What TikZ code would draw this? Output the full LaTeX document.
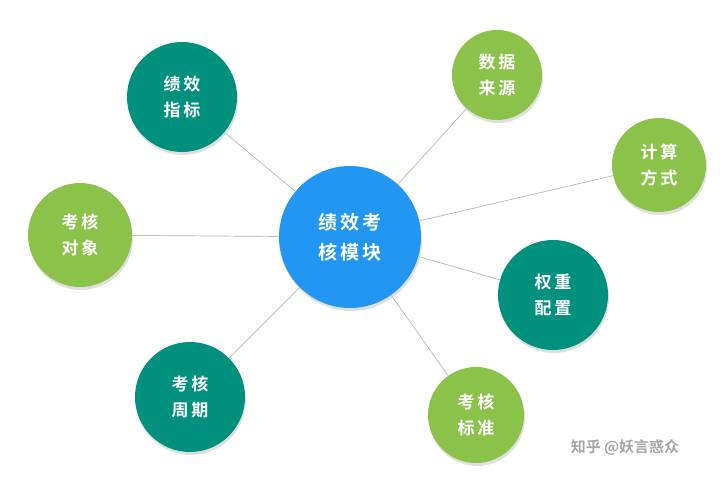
\documentclass[tikz,border=0pt]{standalone}
\usepackage{fontspec}
\newfontfamily\cjk{Noto Sans CJK SC Bold}
\usetikzlibrary{shadows}
\definecolor{teal1}{HTML}{00907E}
\definecolor{green1}{HTML}{8BC34A}
\definecolor{blue1}{HTML}{2196F3}
\tikzset{
 bub/.style={circle,minimum size=#1,inner sep=0pt,text=white,align=center,font=\cjk\fontsize{17}{26}\selectfont,drop shadow={shadow xshift=1pt,shadow yshift=-3pt,opacity=0.25}},
 tl/.style={bub=#1,fill=teal1},
 gr/.style={bub=#1,fill=green1},
 link/.style={draw=gray!55,line width=0.7pt}
}
\begin{document}
\begin{tikzpicture}[x=1pt,y=-1pt]
\useasboundingbox[fill=white] (0,0) rectangle (720,477);
\node[tl=110pt] (a) at (182,97) {绩\,效\\指\,标};
\node[gr=90pt] (b) at (497,75) {数\,据\\来\,源};
\node[gr=94pt] (c) at (659,165) {计\,算\\方\,式};
\node[gr=104pt] (d) at (80,235) {考\,核\\对\,象};
\node[tl=110pt] (e) at (553,295) {权\,重\\配\,置};
\node[tl=110pt] (f) at (190,397) {考\,核\\周\,期};
\node[gr=96pt] (g) at (476,415) {考\,核\\标\,准};
\node[bub=142pt,fill=blue1,font=\cjk\fontsize{19}{30}\selectfont] (m) at (350,237) {绩\,效\,考\\核\,模\,块};
\begin{scope}[on background layer/.style={}]
\end{scope}
\foreach \n in {a,b,c,d,e,f,g} \path[link] (m) -- (\n);
\node[text=gray!70,font=\cjk\fontsize{15}{18}\selectfont] (w) at (625,447) {知乎 @妖言惑众};
\end{tikzpicture}
\end{document}
